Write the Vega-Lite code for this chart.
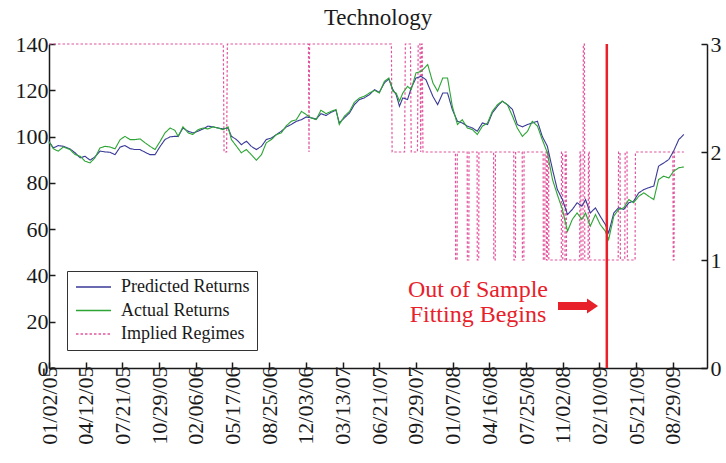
{
  "$schema": "https://vega.github.io/schema/vega-lite/v6.json",
  "width": 658,
  "height": 324,
  "autosize": "none",
  "padding": {"left": 49, "top": 44, "right": 19, "bottom": 95},
  "background": "white",
  "title": {"text": "Technology", "font": "Liberation Serif", "fontSize": 23, "fontWeight": "normal", "color": "#1a1a1a", "offset": 3, "anchor": "middle"},
  "config": {
    "view": {"stroke": null},
    "font": "Liberation Serif",
    "axis": {"labelFont": "Liberation Serif", "labelFontSize": 22, "labelColor": "#1a1a1a", "domainColor": "#1a1a1a", "tickColor": "#1a1a1a", "domainWidth": 1.5, "tickWidth": 1.5, "grid": false, "title": null, "tickSize": -6},
    "legend": {"labelFont": "Liberation Serif", "labelFontSize": 18, "labelColor": "#1a1a1a", "symbolType": "M-1,0H4", "symbolSize": 196, "symbolStrokeWidth": 1.5, "strokeColor": "#333333", "fillColor": "white", "padding": 7, "rowPadding": 5.5, "labelOffset": 29}
  },
  "datasets": {
    "returns": [
      {"day":0,"series":"Predicted Returns","value":97.8},{"day":12,"series":"Predicted Returns","value":95.1},{"day":25,"series":"Predicted Returns","value":96.1},{"day":39,"series":"Predicted Returns","value":95.8},{"day":57,"series":"Predicted Returns","value":94.7},{"day":71,"series":"Predicted Returns","value":93},{"day":85,"series":"Predicted Returns","value":90.8},{"day":98,"series":"Predicted Returns","value":91.5},{"day":112,"series":"Predicted Returns","value":89.8},{"day":125,"series":"Predicted Returns","value":91.2},{"day":139,"series":"Predicted Returns","value":93.7},{"day":153,"series":"Predicted Returns","value":93.4},{"day":166,"series":"Predicted Returns","value":93.2},{"day":180,"series":"Predicted Returns","value":92.2},{"day":194,"series":"Predicted Returns","value":95.5},{"day":207,"series":"Predicted Returns","value":96.1},{"day":221,"series":"Predicted Returns","value":94.8},{"day":234,"series":"Predicted Returns","value":94.4},{"day":248,"series":"Predicted Returns","value":94.4},{"day":262,"series":"Predicted Returns","value":93.2},{"day":275,"series":"Predicted Returns","value":92.2},{"day":289,"series":"Predicted Returns","value":92.2},{"day":303,"series":"Predicted Returns","value":95.8},{"day":316,"series":"Predicted Returns","value":98.7},{"day":330,"series":"Predicted Returns","value":99.9},{"day":343,"series":"Predicted Returns","value":100.1},{"day":352,"series":"Predicted Returns","value":100.1},{"day":365,"series":"Predicted Returns","value":103.7},{"day":379,"series":"Predicted Returns","value":102.3},{"day":392,"series":"Predicted Returns","value":101.6},{"day":406,"series":"Predicted Returns","value":102.3},{"day":420,"series":"Predicted Returns","value":103.3},{"day":433,"series":"Predicted Returns","value":104.5},{"day":447,"series":"Predicted Returns","value":104.2},{"day":461,"series":"Predicted Returns","value":103.7},{"day":474,"series":"Predicted Returns","value":103.3},{"day":488,"series":"Predicted Returns","value":103.7},{"day":497,"series":"Predicted Returns","value":100.1},{"day":511,"series":"Predicted Returns","value":98.7},{"day":524,"series":"Predicted Returns","value":96.5},{"day":538,"series":"Predicted Returns","value":98},{"day":551,"series":"Predicted Returns","value":95.8},{"day":565,"series":"Predicted Returns","value":94.4},{"day":579,"series":"Predicted Returns","value":95.8},{"day":592,"series":"Predicted Returns","value":98.7},{"day":606,"series":"Predicted Returns","value":99.4},{"day":620,"series":"Predicted Returns","value":100.9},{"day":633,"series":"Predicted Returns","value":102.3},{"day":647,"series":"Predicted Returns","value":104.2},{"day":660,"series":"Predicted Returns","value":105.2},{"day":674,"series":"Predicted Returns","value":106.6},{"day":688,"series":"Predicted Returns","value":107.3},{"day":701,"series":"Predicted Returns","value":108.5},{"day":714,"series":"Predicted Returns","value":108.1},{"day":728,"series":"Predicted Returns","value":107.6},{"day":741,"series":"Predicted Returns","value":109.9},{"day":755,"series":"Predicted Returns","value":109.1},{"day":769,"series":"Predicted Returns","value":110.5},{"day":782,"series":"Predicted Returns","value":111.4},{"day":791,"series":"Predicted Returns","value":105.9},{"day":805,"series":"Predicted Returns","value":108.1},{"day":819,"series":"Predicted Returns","value":110.2},{"day":832,"series":"Predicted Returns","value":113.8},{"day":846,"series":"Predicted Returns","value":116},{"day":859,"series":"Predicted Returns","value":116.7},{"day":873,"series":"Predicted Returns","value":118.1},{"day":887,"series":"Predicted Returns","value":120.3},{"day":900,"series":"Predicted Returns","value":119.1},{"day":914,"series":"Predicted Returns","value":123.2},{"day":926,"series":"Predicted Returns","value":124.9},{"day":937,"series":"Predicted Returns","value":120.3},{"day":946,"series":"Predicted Returns","value":118.1},{"day":955,"series":"Predicted Returns","value":113.1},{"day":964,"series":"Predicted Returns","value":116.7},{"day":977,"series":"Predicted Returns","value":116},{"day":987,"series":"Predicted Returns","value":121},{"day":1000,"series":"Predicted Returns","value":125.3},{"day":1014,"series":"Predicted Returns","value":126},{"day":1027,"series":"Predicted Returns","value":124.6},{"day":1046,"series":"Predicted Returns","value":117.4},{"day":1059,"series":"Predicted Returns","value":113.8},{"day":1073,"series":"Predicted Returns","value":118.8},{"day":1086,"series":"Predicted Returns","value":118.8},{"day":1099,"series":"Predicted Returns","value":111.7},{"day":1113,"series":"Predicted Returns","value":106.6},{"day":1126,"series":"Predicted Returns","value":105.9},{"day":1140,"series":"Predicted Returns","value":104.5},{"day":1154,"series":"Predicted Returns","value":103.7},{"day":1167,"series":"Predicted Returns","value":102.3},{"day":1181,"series":"Predicted Returns","value":105.9},{"day":1195,"series":"Predicted Returns","value":105.2},{"day":1208,"series":"Predicted Returns","value":110.2},{"day":1222,"series":"Predicted Returns","value":113.1},{"day":1235,"series":"Predicted Returns","value":115.3},{"day":1249,"series":"Predicted Returns","value":113.8},{"day":1263,"series":"Predicted Returns","value":111.7},{"day":1276,"series":"Predicted Returns","value":105.2},{"day":1290,"series":"Predicted Returns","value":104.2},{"day":1304,"series":"Predicted Returns","value":105.2},{"day":1317,"series":"Predicted Returns","value":105.9},{"day":1331,"series":"Predicted Returns","value":106.6},{"day":1344,"series":"Predicted Returns","value":100.1},{"day":1358,"series":"Predicted Returns","value":95.8},{"day":1372,"series":"Predicted Returns","value":85.8},{"day":1385,"series":"Predicted Returns","value":77.2},{"day":1399,"series":"Predicted Returns","value":72.8},{"day":1413,"series":"Predicted Returns","value":66.3},{"day":1426,"series":"Predicted Returns","value":68.5},{"day":1439,"series":"Predicted Returns","value":71.4},{"day":1452,"series":"Predicted Returns","value":69.9},{"day":1462,"series":"Predicted Returns","value":72.8},{"day":1475,"series":"Predicted Returns","value":67},{"day":1489,"series":"Predicted Returns","value":69.2},{"day":1502,"series":"Predicted Returns","value":65.6},{"day":1516,"series":"Predicted Returns","value":62},{"day":1525,"series":"Predicted Returns","value":58.4},{"day":1539,"series":"Predicted Returns","value":67},{"day":1552,"series":"Predicted Returns","value":69.2},{"day":1566,"series":"Predicted Returns","value":68.5},{"day":1580,"series":"Predicted Returns","value":71.4},{"day":1593,"series":"Predicted Returns","value":72.1},{"day":1607,"series":"Predicted Returns","value":75.7},{"day":1621,"series":"Predicted Returns","value":77.1},{"day":1634,"series":"Predicted Returns","value":77.9},{"day":1648,"series":"Predicted Returns","value":78.6},{"day":1661,"series":"Predicted Returns","value":87.2},{"day":1675,"series":"Predicted Returns","value":88.6},{"day":1689,"series":"Predicted Returns","value":90.1},{"day":1702,"series":"Predicted Returns","value":93.7},{"day":1716,"series":"Predicted Returns","value":98.7},{"day":1730,"series":"Predicted Returns","value":100.9},
      {"day":0,"series":"Actual Returns","value":97.8},{"day":12,"series":"Actual Returns","value":94.7},{"day":25,"series":"Actual Returns","value":93.7},{"day":39,"series":"Actual Returns","value":95.5},{"day":57,"series":"Actual Returns","value":94.4},{"day":71,"series":"Actual Returns","value":92.2},{"day":85,"series":"Actual Returns","value":91.5},{"day":98,"series":"Actual Returns","value":89.4},{"day":112,"series":"Actual Returns","value":88.6},{"day":125,"series":"Actual Returns","value":90.8},{"day":139,"series":"Actual Returns","value":95.1},{"day":153,"series":"Actual Returns","value":95.8},{"day":166,"series":"Actual Returns","value":95.5},{"day":180,"series":"Actual Returns","value":94.7},{"day":194,"series":"Actual Returns","value":98.7},{"day":207,"series":"Actual Returns","value":100.1},{"day":221,"series":"Actual Returns","value":98.7},{"day":234,"series":"Actual Returns","value":98.7},{"day":248,"series":"Actual Returns","value":99},{"day":262,"series":"Actual Returns","value":97.3},{"day":275,"series":"Actual Returns","value":95.8},{"day":289,"series":"Actual Returns","value":94.4},{"day":303,"series":"Actual Returns","value":98},{"day":316,"series":"Actual Returns","value":101.6},{"day":330,"series":"Actual Returns","value":103.7},{"day":343,"series":"Actual Returns","value":102.7},{"day":352,"series":"Actual Returns","value":100.1},{"day":365,"series":"Actual Returns","value":104.2},{"day":379,"series":"Actual Returns","value":101.6},{"day":392,"series":"Actual Returns","value":100.9},{"day":406,"series":"Actual Returns","value":103},{"day":420,"series":"Actual Returns","value":103.7},{"day":433,"series":"Actual Returns","value":103.3},{"day":447,"series":"Actual Returns","value":104.2},{"day":461,"series":"Actual Returns","value":103.7},{"day":474,"series":"Actual Returns","value":103},{"day":488,"series":"Actual Returns","value":104.2},{"day":497,"series":"Actual Returns","value":98.7},{"day":511,"series":"Actual Returns","value":95.8},{"day":524,"series":"Actual Returns","value":93},{"day":538,"series":"Actual Returns","value":94.4},{"day":551,"series":"Actual Returns","value":92.2},{"day":565,"series":"Actual Returns","value":89.8},{"day":579,"series":"Actual Returns","value":92.2},{"day":592,"series":"Actual Returns","value":97.3},{"day":606,"series":"Actual Returns","value":98.7},{"day":620,"series":"Actual Returns","value":100.9},{"day":633,"series":"Actual Returns","value":101.6},{"day":647,"series":"Actual Returns","value":104.7},{"day":660,"series":"Actual Returns","value":106.6},{"day":674,"series":"Actual Returns","value":107.3},{"day":688,"series":"Actual Returns","value":110.9},{"day":701,"series":"Actual Returns","value":109.5},{"day":714,"series":"Actual Returns","value":108.1},{"day":728,"series":"Actual Returns","value":107.3},{"day":741,"series":"Actual Returns","value":111.4},{"day":755,"series":"Actual Returns","value":109.9},{"day":769,"series":"Actual Returns","value":110.9},{"day":782,"series":"Actual Returns","value":111.7},{"day":791,"series":"Actual Returns","value":105.2},{"day":805,"series":"Actual Returns","value":108.8},{"day":819,"series":"Actual Returns","value":110.9},{"day":832,"series":"Actual Returns","value":114.8},{"day":846,"series":"Actual Returns","value":116.7},{"day":859,"series":"Actual Returns","value":117.4},{"day":873,"series":"Actual Returns","value":118.8},{"day":887,"series":"Actual Returns","value":120},{"day":900,"series":"Actual Returns","value":118.8},{"day":914,"series":"Actual Returns","value":123.9},{"day":926,"series":"Actual Returns","value":125.3},{"day":937,"series":"Actual Returns","value":119.6},{"day":946,"series":"Actual Returns","value":118.8},{"day":955,"series":"Actual Returns","value":115.3},{"day":964,"series":"Actual Returns","value":118.8},{"day":977,"series":"Actual Returns","value":121.7},{"day":987,"series":"Actual Returns","value":120.3},{"day":1000,"series":"Actual Returns","value":127.5},{"day":1014,"series":"Actual Returns","value":128.2},{"day":1032,"series":"Actual Returns","value":131.1},{"day":1046,"series":"Actual Returns","value":123.2},{"day":1059,"series":"Actual Returns","value":119.6},{"day":1073,"series":"Actual Returns","value":125.3},{"day":1086,"series":"Actual Returns","value":125.3},{"day":1099,"series":"Actual Returns","value":113.1},{"day":1113,"series":"Actual Returns","value":105.2},{"day":1126,"series":"Actual Returns","value":107.3},{"day":1140,"series":"Actual Returns","value":103.7},{"day":1154,"series":"Actual Returns","value":103},{"day":1167,"series":"Actual Returns","value":100.9},{"day":1181,"series":"Actual Returns","value":104.5},{"day":1195,"series":"Actual Returns","value":105.9},{"day":1208,"series":"Actual Returns","value":110.9},{"day":1222,"series":"Actual Returns","value":113.8},{"day":1235,"series":"Actual Returns","value":115.3},{"day":1249,"series":"Actual Returns","value":113.8},{"day":1263,"series":"Actual Returns","value":108.8},{"day":1276,"series":"Actual Returns","value":103.7},{"day":1290,"series":"Actual Returns","value":100.1},{"day":1304,"series":"Actual Returns","value":102.3},{"day":1317,"series":"Actual Returns","value":106.6},{"day":1331,"series":"Actual Returns","value":104.5},{"day":1344,"series":"Actual Returns","value":98.7},{"day":1358,"series":"Actual Returns","value":93},{"day":1372,"series":"Actual Returns","value":81.4},{"day":1385,"series":"Actual Returns","value":75},{"day":1399,"series":"Actual Returns","value":68.5},{"day":1413,"series":"Actual Returns","value":59.1},{"day":1426,"series":"Actual Returns","value":64.2},{"day":1439,"series":"Actual Returns","value":67},{"day":1452,"series":"Actual Returns","value":64.2},{"day":1462,"series":"Actual Returns","value":67},{"day":1475,"series":"Actual Returns","value":61.3},{"day":1489,"series":"Actual Returns","value":66.3},{"day":1502,"series":"Actual Returns","value":62},{"day":1516,"series":"Actual Returns","value":59.1},{"day":1525,"series":"Actual Returns","value":55.5},{"day":1539,"series":"Actual Returns","value":65.6},{"day":1552,"series":"Actual Returns","value":68.5},{"day":1566,"series":"Actual Returns","value":69.2},{"day":1580,"series":"Actual Returns","value":72.8},{"day":1593,"series":"Actual Returns","value":71.4},{"day":1607,"series":"Actual Returns","value":74.2},{"day":1621,"series":"Actual Returns","value":75.7},{"day":1634,"series":"Actual Returns","value":74.2},{"day":1648,"series":"Actual Returns","value":72.8},{"day":1661,"series":"Actual Returns","value":81.4},{"day":1675,"series":"Actual Returns","value":82.9},{"day":1689,"series":"Actual Returns","value":82.1},{"day":1702,"series":"Actual Returns","value":85},{"day":1716,"series":"Actual Returns","value":86.5},{"day":1730,"series":"Actual Returns","value":86.9}
    ],
    "regimes": [
      {"day":0,"series":"Implied Regimes","regime":3},{"day":475,"series":"Implied Regimes","regime":3},{"day":477,"series":"Implied Regimes","regime":2},{"day":484,"series":"Implied Regimes","regime":2},{"day":486,"series":"Implied Regimes","regime":3},
      {"day":707,"series":"Implied Regimes","regime":3},{"day":708.5,"series":"Implied Regimes","regime":2},{"day":710,"series":"Implied Regimes","regime":3},
      {"day":933,"series":"Implied Regimes","regime":3},{"day":935,"series":"Implied Regimes","regime":2},{"day":969,"series":"Implied Regimes","regime":2},{"day":971,"series":"Implied Regimes","regime":3},{"day":985,"series":"Implied Regimes","regime":3},{"day":987,"series":"Implied Regimes","regime":2},
      {"day":1004,"series":"Implied Regimes","regime":2},{"day":1006,"series":"Implied Regimes","regime":3},{"day":1011,"series":"Implied Regimes","regime":3},{"day":1013,"series":"Implied Regimes","regime":2},{"day":1015,"series":"Implied Regimes","regime":3},{"day":1017,"series":"Implied Regimes","regime":3},{"day":1019,"series":"Implied Regimes","regime":2},
      {"day":1107.5,"series":"Implied Regimes","regime":2},{"day":1108,"series":"Implied Regimes","regime":1},{"day":1112,"series":"Implied Regimes","regime":1},{"day":1112.5,"series":"Implied Regimes","regime":2},
      {"day":1139.5,"series":"Implied Regimes","regime":2},{"day":1140,"series":"Implied Regimes","regime":1},{"day":1144,"series":"Implied Regimes","regime":1},{"day":1144.5,"series":"Implied Regimes","regime":2},
      {"day":1166.5,"series":"Implied Regimes","regime":2},{"day":1167,"series":"Implied Regimes","regime":1},{"day":1171,"series":"Implied Regimes","regime":1},{"day":1171.5,"series":"Implied Regimes","regime":2},
      {"day":1211.5,"series":"Implied Regimes","regime":2},{"day":1212,"series":"Implied Regimes","regime":1},{"day":1216,"series":"Implied Regimes","regime":1},{"day":1216.5,"series":"Implied Regimes","regime":2},
      {"day":1266.5,"series":"Implied Regimes","regime":2},{"day":1267,"series":"Implied Regimes","regime":1},{"day":1271,"series":"Implied Regimes","regime":1},{"day":1271.5,"series":"Implied Regimes","regime":2},
      {"day":1289.5,"series":"Implied Regimes","regime":2},{"day":1290,"series":"Implied Regimes","regime":1},{"day":1294,"series":"Implied Regimes","regime":1},{"day":1294.5,"series":"Implied Regimes","regime":2},
      {"day":1346.5,"series":"Implied Regimes","regime":2},{"day":1347,"series":"Implied Regimes","regime":1},{"day":1351,"series":"Implied Regimes","regime":1},{"day":1351.5,"series":"Implied Regimes","regime":2},
      {"day":1355,"series":"Implied Regimes","regime":2},{"day":1355.5,"series":"Implied Regimes","regime":1},{"day":1358,"series":"Implied Regimes","regime":1},{"day":1358.5,"series":"Implied Regimes","regime":2},
      {"day":1361.5,"series":"Implied Regimes","regime":2},{"day":1362,"series":"Implied Regimes","regime":1},
      {"day":1396,"series":"Implied Regimes","regime":1},{"day":1396.5,"series":"Implied Regimes","regime":2},{"day":1399.5,"series":"Implied Regimes","regime":2},{"day":1400,"series":"Implied Regimes","regime":1},
      {"day":1406,"series":"Implied Regimes","regime":1},{"day":1406.5,"series":"Implied Regimes","regime":2},{"day":1409.5,"series":"Implied Regimes","regime":2},{"day":1410,"series":"Implied Regimes","regime":1},
      {"day":1446,"series":"Implied Regimes","regime":1},{"day":1447,"series":"Implied Regimes","regime":2},{"day":1449,"series":"Implied Regimes","regime":2},{"day":1450,"series":"Implied Regimes","regime":1},
      {"day":1455,"series":"Implied Regimes","regime":1},{"day":1456,"series":"Implied Regimes","regime":3},{"day":1459,"series":"Implied Regimes","regime":3},{"day":1460,"series":"Implied Regimes","regime":1},
      {"day":1469,"series":"Implied Regimes","regime":1},{"day":1470,"series":"Implied Regimes","regime":2},{"day":1472,"series":"Implied Regimes","regime":2},{"day":1473,"series":"Implied Regimes","regime":1},
      {"day":1551,"series":"Implied Regimes","regime":1},{"day":1552,"series":"Implied Regimes","regime":2},{"day":1556,"series":"Implied Regimes","regime":2},{"day":1557,"series":"Implied Regimes","regime":1},
      {"day":1569,"series":"Implied Regimes","regime":1},{"day":1570,"series":"Implied Regimes","regime":2},{"day":1575,"series":"Implied Regimes","regime":2},{"day":1576,"series":"Implied Regimes","regime":1},
      {"day":1597,"series":"Implied Regimes","regime":1},{"day":1598,"series":"Implied Regimes","regime":2},
      {"day":1700,"series":"Implied Regimes","regime":2},{"day":1701,"series":"Implied Regimes","regime":1},{"day":1703,"series":"Implied Regimes","regime":1},{"day":1704,"series":"Implied Regimes","regime":2},
      {"day":1730,"series":"Implied Regimes","regime":2}
    ]
  },
  "layer": [
    {
      "data": {"name": "regimes"},
      "mark": {"type": "line", "strokeWidth": 1.2},
      "encoding": {
        "x": {"field": "day", "type": "quantitative", "scale": {"domain": [0, 1793], "nice": false, "zero": false},
              "axis": {"values": [0,100,200,300,400,500,600,700,800,900,1000,1100,1200,1300,1400,1500,1600,1700], "tickCount": 40, "labelExpr": "timeFormat(datetime(2005, 0, 2 + datum.value), '%m/%d/%y')", "labelAngle": -90, "labelAlign": "right", "labelBaseline": "middle", "labelPadding": 4, "labelOverlap": false, "labelFlush": false, "labelBound": false}},
        "y": {"field": "regime", "type": "quantitative", "scale": {"domain": [0, 3], "nice": false},
              "axis": {"orient": "right", "values": [0, 1, 2, 3], "labelPadding": 9}},
        "order": {"field": "day", "type": "quantitative"},
        "color": {"field": "series", "type": "nominal",
                  "scale": {"domain": ["Predicted Returns", "Actual Returns", "Implied Regimes"], "range": ["#3a3a98", "#2ca534", "#e2559e"]},
                  "legend": {"title": null, "orient": "none", "legendX": 18, "legendY": 227}},
        "strokeDash": {"field": "series", "type": "nominal",
                  "scale": {"domain": ["Predicted Returns", "Actual Returns", "Implied Regimes"], "range": [[1, 0], [1, 0], [2.5, 2]]},
                  "legend": {"title": null, "orient": "none", "legendX": 18, "legendY": 227}}
      }
    },
    {
      "layer": [
        {
          "data": {"name": "returns"},
          "mark": {"type": "line", "strokeWidth": 1.1},
          "encoding": {
            "x": {"field": "day", "type": "quantitative",
                  "axis": {"values": [0,100,200,300,400,500,600,700,800,900,1000,1100,1200,1300,1400,1500,1600,1700], "tickCount": 40, "labelExpr": "timeFormat(datetime(2005, 0, 2 + datum.value), '%m/%d/%y')", "labelAngle": -90, "labelAlign": "right", "labelBaseline": "middle", "labelPadding": 4, "labelOverlap": false, "labelFlush": false, "labelBound": false}},
            "y": {"field": "value", "type": "quantitative", "scale": {"domain": [0, 140], "nice": false},
                  "axis": {"orient": "left", "values": [0, 20, 40, 60, 80, 100, 120, 140], "labelPadding": 7}},
            "order": {"field": "day", "type": "quantitative"},
            "color": {"field": "series", "type": "nominal"},
            "strokeDash": {"field": "series", "type": "nominal"}
          }
        },
        {
          "data": {"values": [{}]},
          "mark": {"type": "rule", "color": "#e8202a", "strokeWidth": 2.5},
          "encoding": {
            "x": {"datum": 1520, "type": "quantitative"},
            "y": {"datum": 0, "type": "quantitative"},
            "y2": {"datum": 140}
          }
        },
        {
          "data": {"values": [{}]},
          "mark": {"type": "point", "shape": "M-1,-0.2L0.45,-0.2L0.45,-0.375L1,0L0.45,0.375L0.45,0.2L-1,0.2Z", "filled": true, "color": "#e8202a", "size": 1600, "opacity": 1, "strokeWidth": 0},
          "encoding": {
            "x": {"datum": 1441.5, "type": "quantitative"},
            "y": {"datum": 26.8, "type": "quantitative"}
          }
        },
        {
          "data": {"values": [{}]},
          "mark": {"type": "text", "text": ["Out of Sample", "Fitting Begins"], "font": "Liberation Serif", "fontSize": 24, "color": "#e8202a", "align": "center", "baseline": "alphabetic", "lineHeight": 25},
          "encoding": {
            "x": {"datum": 1169, "type": "quantitative"},
            "y": {"datum": 30.7, "type": "quantitative"}
          }
        }
      ]
    }
  ],
  "resolve": {"scale": {"y": "independent"}}
}
